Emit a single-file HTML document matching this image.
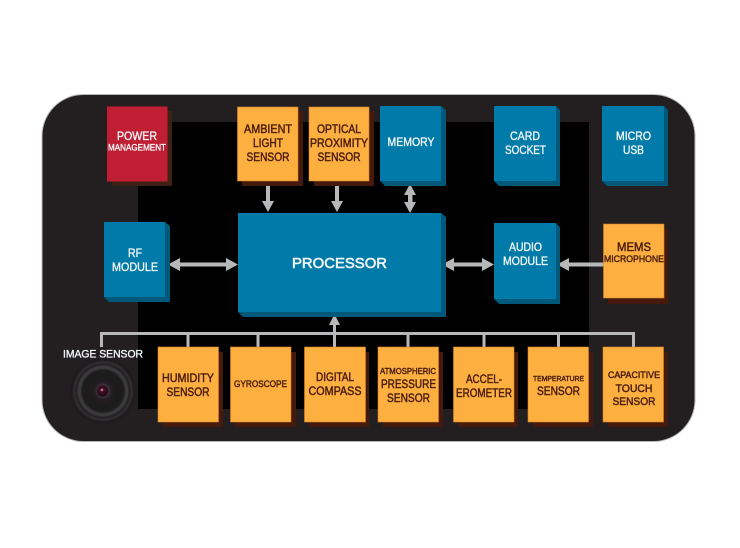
<!DOCTYPE html>
<html><head><meta charset="utf-8"><style>
html,body{margin:0;padding:0;background:#fff}
svg{display:block}
text{font-family:"Liberation Sans",sans-serif;text-anchor:middle}
.o text{fill:#4a1c0c;stroke:#4a1c0c;stroke-width:.45}
.w text{fill:#f2f6f8;stroke:#f2f6f8;stroke-width:.35}
</style></head><body>
<svg width="740" height="548" viewBox="0 0 740 548" xmlns="http://www.w3.org/2000/svg">
<defs>
<radialGradient id="lens" cx="50%" cy="50%" r="50%"><stop offset="0" stop-color="#242324"/><stop offset="1" stop-color="#1b1a1b"/></radialGradient>
<radialGradient id="eye" cx="45%" cy="40%" r="55%"><stop offset="0" stop-color="#d9c4cf"/><stop offset=".3" stop-color="#4a1028"/><stop offset="1" stop-color="#1a0a12"/></radialGradient>
<filter id="soft" x="-20%" y="-20%" width="140%" height="140%"><feGaussianBlur stdDeviation=".8"/></filter>
</defs>
<rect width="740" height="548" fill="#fff"/>
<rect x="41.5" y="94" width="654" height="348" rx="42" fill="#b8b8b8"/>
<rect x="42.5" y="95" width="652" height="346" rx="41" fill="#231f20"/>
<rect x="138" y="122" width="451" height="287" fill="#000"/>

<!-- bus connectors -->
<g fill="#b7b8ba">
<rect x="100" y="332" width="535" height="3"/>
<rect x="100" y="332" width="3" height="15"/>
<rect x="186.500" y="332" width="3" height="15"/>
<rect x="256.500" y="332" width="3" height="15"/>
<rect x="333" y="322" width="3" height="25"/>
<rect x="406.500" y="332" width="3" height="15"/>
<rect x="482.500" y="332" width="3" height="15"/>
<rect x="557" y="332" width="3" height="15"/>
<rect x="632" y="332" width="3" height="15"/>
<polygon points="334.500,314 329,325 340,325"/>
<!-- top arrows -->
<rect x="266" y="183" width="4" height="19"/><polygon points="268,212 262,201 274,201"/>
<rect x="335" y="183" width="4" height="19"/><polygon points="337,212 331,201 343,201"/>
<rect x="408" y="192" width="4.500" height="12"/><polygon points="410,184 404,195 416,195"/><polygon points="410,213 404,202 416,202"/>
<!-- horizontal arrows -->
<rect x="178" y="262.500" width="52" height="4"/><polygon points="168,264.500 180,258 180,271"/><polygon points="238,264.500 226,258 226,271"/>
<rect x="452" y="262.500" width="34" height="4"/><polygon points="442,264.500 454,258 454,271"/><polygon points="494,264.500 482,258 482,271"/>
<rect x="566" y="262.500" width="38" height="4"/><polygon points="557,264.500 569,258 569,271"/>
</g>

<!-- red -->
<rect x="112" y="111" width="60" height="75" fill="#3f2014"/>
<rect x="107" y="106.500" width="60.500" height="75" fill="#c01f33"/>

<!-- orange boxes shadows -->
<g fill="#451a0c">
<rect x="242" y="111" width="61" height="75"/>
<rect x="314" y="111" width="60" height="75"/>
<rect x="608" y="229" width="60" height="75"/>
<rect x="163" y="352" width="60" height="75"/>
<rect x="235" y="352" width="61" height="75"/>
<rect x="309" y="352" width="60" height="75"/>
<rect x="383" y="352" width="60" height="75"/>
<rect x="458" y="352" width="60" height="75"/>
<rect x="533" y="352" width="60" height="75"/>
<rect x="608" y="352" width="60" height="75"/>
</g>
<g fill="#fdb040" stroke="#d9822b" stroke-width=".6">
<rect x="237.500" y="107" width="60.500" height="74"/>
<rect x="309" y="107" width="60" height="74"/>
<rect x="603.500" y="224" width="60.500" height="74"/>
<rect x="158" y="347" width="60.500" height="75"/>
<rect x="230.500" y="347" width="60.500" height="75"/>
<rect x="304.500" y="347" width="61" height="75"/>
<rect x="378" y="347" width="60.500" height="75"/>
<rect x="453.500" y="347" width="60.500" height="75"/>
<rect x="528" y="347" width="60.500" height="75"/>
<rect x="603" y="347" width="60.500" height="75"/>
</g>

<!-- blue boxes -->
<g fill="#00597a">
<polygon points="380,106 441,106 446,110 446,186 385,186 380,181"/>
<polygon points="494,106 556,106 560,110 560,186 499,186 494,181"/>
<polygon points="602,106 664,106 668,110 668,186 607,186 602,181"/>
<polygon points="238,213 441,213 446,217 446,317 243,317 238,312"/>
<polygon points="104,222 165,222 170,226 170,302 109,302 104,297"/>
<polygon points="494,223 556,223 560,227 560,304 499,304 494,299"/>
</g>
<g fill="#007aa8">
<rect x="380" y="106" width="61" height="75"/>
<rect x="494" y="106" width="62" height="75"/>
<rect x="602" y="106" width="62" height="75"/>
<rect x="238" y="213" width="203" height="99"/>
<rect x="104" y="222" width="61" height="75"/>
<rect x="494" y="223" width="62" height="76"/>
</g>

<!-- camera -->
<g filter="url(#soft)">
<circle cx="103" cy="391" r="32" fill="#1a191a"/>
<circle cx="103" cy="391" r="30" fill="#302f30"/>
<circle cx="103" cy="391" r="27.500" fill="#1e1d1e"/>
<circle cx="103" cy="391" r="25.500" fill="#3c3b3c"/>
<circle cx="103" cy="391" r="22" fill="url(#lens)"/>
</g>
<circle cx="103" cy="391" r="7.500" fill="#3b2d33"/>
<circle cx="102.500" cy="391" r="5.500" fill="url(#eye)"/>

<!-- white labels -->
<g class="w">
<text x="137" y="140" font-size="11.500" textLength="40" lengthAdjust="spacingAndGlyphs">POWER</text>
<text x="137" y="150.500" font-size="9" textLength="58" lengthAdjust="spacingAndGlyphs">MANAGEMENT</text>
<text x="411" y="146" font-size="11.500" textLength="47" lengthAdjust="spacingAndGlyphs">MEMORY</text>
<text x="525" y="140" font-size="11.500" textLength="30" lengthAdjust="spacingAndGlyphs">CARD</text>
<text x="525.500" y="154" font-size="11.500" textLength="41" lengthAdjust="spacingAndGlyphs">SOCKET</text>
<text x="633.500" y="140" font-size="11.500" textLength="35" lengthAdjust="spacingAndGlyphs">MICRO</text>
<text x="633.500" y="154" font-size="11.500" textLength="21" lengthAdjust="spacingAndGlyphs">USB</text>
<text x="135" y="257" font-size="11.500" textLength="14" lengthAdjust="spacingAndGlyphs">RF</text>
<text x="135" y="271" font-size="11.500" textLength="46" lengthAdjust="spacingAndGlyphs">MODULE</text>
<text x="525.500" y="251" font-size="11.500" textLength="33" lengthAdjust="spacingAndGlyphs">AUDIO</text>
<text x="525.500" y="265" font-size="11.500" textLength="45" lengthAdjust="spacingAndGlyphs">MODULE</text>
<text x="339.500" y="268" font-size="15" textLength="95" lengthAdjust="spacingAndGlyphs" style="stroke-width:.6">PROCESSOR</text>
<text x="103" y="357.500" font-size="11" textLength="80" lengthAdjust="spacingAndGlyphs">IMAGE SENSOR</text>
</g>

<!-- dark labels -->
<g class="o">
<text x="268" y="133" font-size="11.500" textLength="48" lengthAdjust="spacingAndGlyphs">AMBIENT</text>
<text x="268" y="147" font-size="11.500" textLength="30" lengthAdjust="spacingAndGlyphs">LIGHT</text>
<text x="268" y="161" font-size="11.500" textLength="43" lengthAdjust="spacingAndGlyphs">SENSOR</text>
<text x="339" y="133" font-size="11.500" textLength="44" lengthAdjust="spacingAndGlyphs">OPTICAL</text>
<text x="339" y="147" font-size="11.500" textLength="58" lengthAdjust="spacingAndGlyphs">PROXIMITY</text>
<text x="339" y="161" font-size="11.500" textLength="43" lengthAdjust="spacingAndGlyphs">SENSOR</text>
<text x="634" y="251" font-size="11.500" textLength="34" lengthAdjust="spacingAndGlyphs">MEMS</text>
<text x="634" y="262" font-size="9.500" textLength="60" lengthAdjust="spacingAndGlyphs">MICROPHONE</text>
<text x="188" y="382" font-size="11.500" textLength="52" lengthAdjust="spacingAndGlyphs">HUMIDITY</text>
<text x="188" y="396" font-size="11.500" textLength="43" lengthAdjust="spacingAndGlyphs">SENSOR</text>
<text x="260.500" y="387" font-size="9" textLength="53" lengthAdjust="spacingAndGlyphs">GYROSCOPE</text>
<text x="335" y="381" font-size="11.500" textLength="38" lengthAdjust="spacingAndGlyphs">DIGITAL</text>
<text x="335" y="395" font-size="11.500" textLength="53" lengthAdjust="spacingAndGlyphs">COMPASS</text>
<text x="408" y="374" font-size="8.500" textLength="56" lengthAdjust="spacingAndGlyphs">ATMOSPHERIC</text>
<text x="408.500" y="388" font-size="11.500" textLength="55" lengthAdjust="spacingAndGlyphs">PRESSURE</text>
<text x="408.500" y="402" font-size="11.500" textLength="43" lengthAdjust="spacingAndGlyphs">SENSOR</text>
<text x="484" y="383" font-size="11.500" textLength="36" lengthAdjust="spacingAndGlyphs">ACCEL-</text>
<text x="484" y="397" font-size="11.500" textLength="56" lengthAdjust="spacingAndGlyphs">EROMETER</text>
<text x="558.500" y="381" font-size="7.500" textLength="51" lengthAdjust="spacingAndGlyphs">TEMPERATURE</text>
<text x="558.500" y="395" font-size="11.500" textLength="43" lengthAdjust="spacingAndGlyphs">SENSOR</text>
<text x="634" y="378" font-size="9" textLength="52" lengthAdjust="spacingAndGlyphs">CAPACITIVE</text>
<text x="634" y="392" font-size="11" textLength="37" lengthAdjust="spacingAndGlyphs">TOUCH</text>
<text x="634" y="405" font-size="11" textLength="43" lengthAdjust="spacingAndGlyphs">SENSOR</text>
</g>
</svg>
</body></html>
